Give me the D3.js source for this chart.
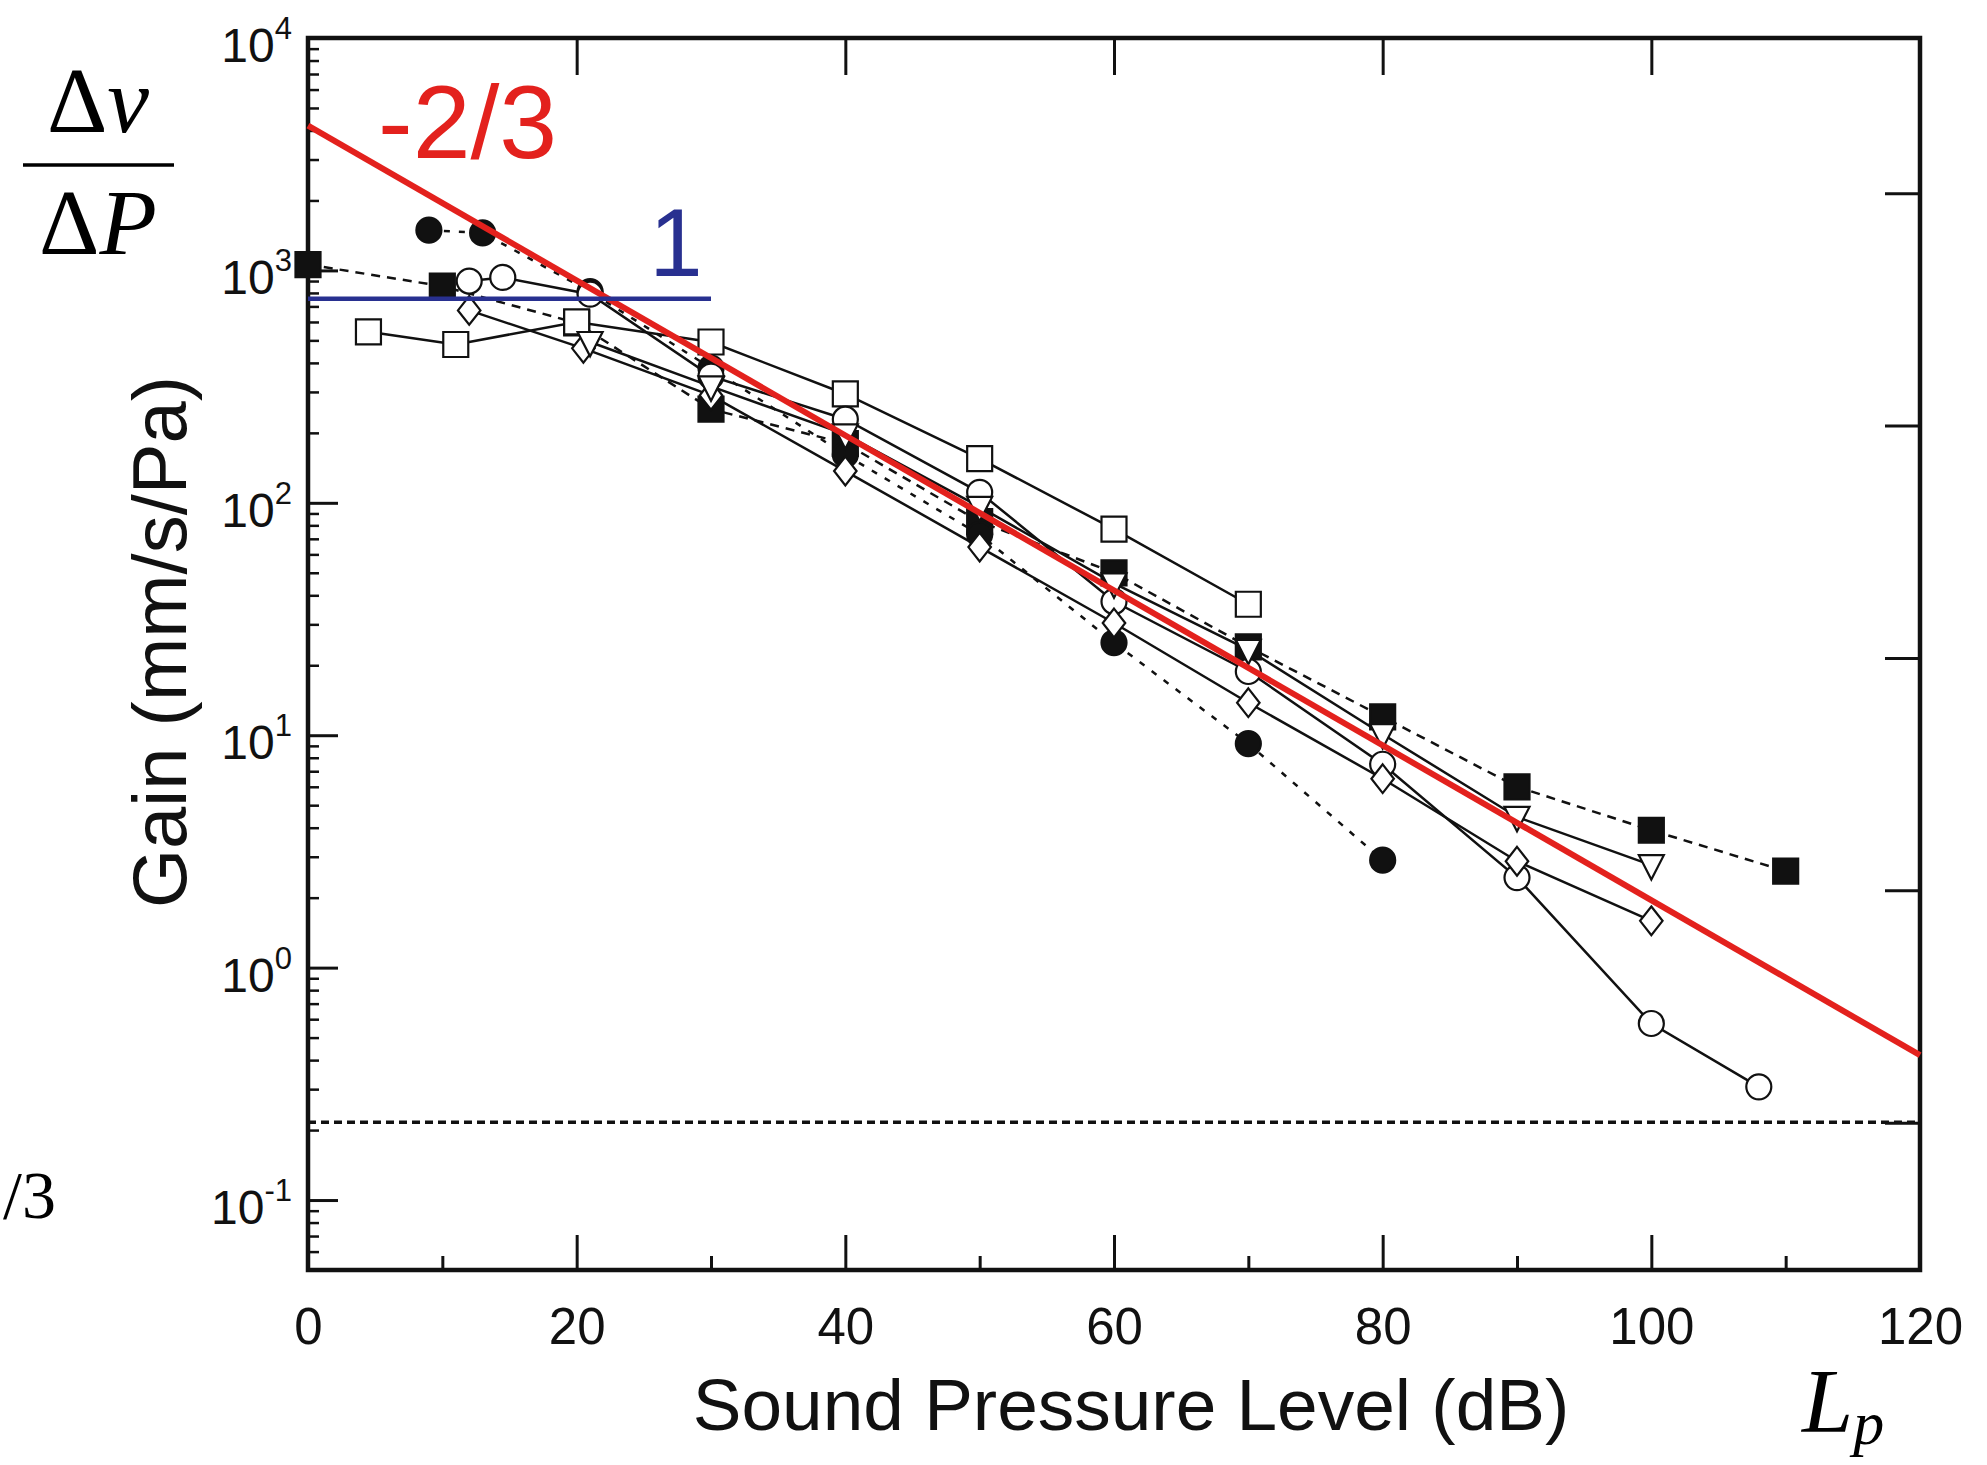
<!DOCTYPE html>
<html>
<head>
<meta charset="utf-8">
<script src="https://cdn.jsdelivr.net/npm/d3@7"></script>
<style>
  body { margin: 0; background: #fff; }
  svg { display: block; }
  text { font-family: "Liberation Sans", Arial, sans-serif; fill: #111; }
  .math { font-family: "Liberation Serif", "DejaVu Serif", serif; fill: #000; }
</style>
</head>
<body>
<svg id="chart" width="1987" height="1465"></svg>
<script>
// tick values
const xTicks = [0, 20, 40, 60, 80, 100, 120];
const xMinorTicks = [10, 30, 50, 70, 90, 110];
const yDecades = [0.1, 1, 10, 100, 1000, 10000];
const yExponents = ['-1', '0', '1', '2', '3', '4'];
const rightTicks = [0.215, 2.15, 21.5, 215, 2150];

// measured gain (mm/s/Pa) vs sound pressure level (dB)
const filledSquareDb = [0, 10, 20, 30, 40, 50, 60, 70, 80, 90, 100, 110];
const filledSquareGain = [1060, 855, 594, 253, 180, 83, 50, 24, 12, 6.0, 3.9, 2.6];

const filledCircleDb = [9, 13, 21, 30, 40, 50, 60, 70, 80];
const filledCircleGain = [1490, 1450, 810, 380, 161, 73, 25, 9.2, 2.9];

const openSquareDb = [4.5, 11, 20, 30, 40, 50, 60, 70];
const openSquareGain = [544, 480, 600, 492, 294, 155, 77, 36.6];

const openCircleDb = [12, 14.5, 21, 30, 40, 50, 60, 70, 80, 90, 100, 108];
const openCircleGain = [900, 933, 790, 351, 229, 111, 37.6, 18.8, 7.5, 2.44, 0.575, 0.307];

const openDiamondDb = [12, 20.5, 30, 40, 50, 60, 70, 80, 90, 100];
const openDiamondGain = [673, 462, 290, 137, 64.5, 30.4, 13.8, 6.5, 2.87, 1.59];

const openTriangleDb = [21, 30, 40, 50, 60, 70, 80, 90, 100];
const openTriangleGain = [492, 317, 197, 96, 45, 23.3, 10.1, 4.45, 2.76];

// reference lines
const slopeDb = [0, 120];
const slopeGain = [4200, 0.42];
const flatDb = [0, 30];
const flatGain = [755, 755];
const floorDb = [0, 120];
const floorGain = [0.216, 0.216];

const margin = { left: 308, right: 1920, top: 38, bottom: 1270 };
const svg = d3.select('#chart');

const x = d3.scaleLinear().domain([0, 120]).range([margin.left, margin.right]);
const y = d3.scaleLog().domain([0.05, 10000]).range([margin.bottom, margin.top]);

// axes, ticks pointing inward
const axisStyle = (g) => {
  g.select('.domain').remove();
  g.selectAll('.tick line').attr('stroke', '#111').attr('stroke-width', 3);
};

svg.append('g')
  .attr('transform', 'translate(0,' + margin.bottom + ')')
  .call(d3.axisBottom(x).tickValues(xTicks).tickSize(-35).tickPadding(38))
  .call(axisStyle)
  .call((g) => g.selectAll('text').attr('font-size', 51).attr('fill', '#111'));

svg.append('g')
  .attr('transform', 'translate(0,' + margin.bottom + ')')
  .call(d3.axisBottom(x).tickValues(xMinorTicks).tickSize(-14).tickFormat(''))
  .call(axisStyle);

svg.append('g')
  .attr('transform', 'translate(0,' + margin.top + ')')
  .call(d3.axisTop(x).tickValues(xTicks.slice(1, -1)).tickSize(-37).tickFormat(''))
  .call(axisStyle);

svg.append('g')
  .attr('transform', 'translate(' + margin.left + ',0)')
  .call(d3.axisLeft(y).tickValues(yDecades).tickSize(-30).tickFormat(''))
  .call(axisStyle);

svg.append('g')
  .attr('transform', 'translate(' + margin.left + ',0)')
  .call(d3.axisLeft(y).tickValues(y.ticks().filter((t) => !yDecades.includes(t))).tickSize(-11).tickFormat(''))
  .call(axisStyle)
  .call((g) => g.selectAll('.tick line').attr('stroke-width', 2.5));

svg.append('g')
  .attr('transform', 'translate(' + margin.right + ',0)')
  .call(d3.axisRight(y).tickValues(rightTicks).tickSize(-35).tickFormat(''))
  .call(axisStyle);

// y tick labels as 10 with superscript
const yLabels = svg.append('g').selectAll('text')
  .data(yDecades)
  .enter().append('text')
  .attr('x', 292)
  .attr('y', (d) => y(d) + 24)
  .attr('text-anchor', 'end')
  .attr('font-size', 48);
yLabels.append('tspan').text('10');
yLabels.append('tspan')
  .attr('font-size', 31)
  .attr('dy', -23)
  .text((d, i) => yExponents[i]);

// frame
svg.append('rect')
  .attr('x', margin.left)
  .attr('y', margin.top)
  .attr('width', margin.right - margin.left)
  .attr('height', margin.bottom - margin.top)
  .attr('fill', 'none')
  .attr('stroke', '#111')
  .attr('stroke-width', 4.5);

const line = d3.line().x((d) => x(d[0])).y((d) => y(d[1]));

// noise floor
svg.append('path')
  .datum(d3.zip(floorDb, floorGain))
  .attr('d', line)
  .attr('fill', 'none')
  .attr('stroke', '#111')
  .attr('stroke-width', 3.5)
  .attr('stroke-dasharray', '8,5');

const series = [
  { db: filledSquareDb, gain: filledSquareGain, shape: 'square', filled: true, dash: '9,7' },
  { db: filledCircleDb, gain: filledCircleGain, shape: 'circle', filled: true, dash: '6,9' },
  { db: openSquareDb, gain: openSquareGain, shape: 'square', filled: false, dash: null },
  { db: openCircleDb, gain: openCircleGain, shape: 'circle', filled: false, dash: null },
  { db: openDiamondDb, gain: openDiamondGain, shape: 'diamond', filled: false, dash: null },
  { db: openTriangleDb, gain: openTriangleGain, shape: 'triangle', filled: false, dash: null },
];

const markerPath = (shape, s) => {
  if (shape === 'square') return `M${-s},${-s}H${s}V${s}H${-s}Z`;
  if (shape === 'circle') return d3.symbol(d3.symbolCircle, Math.PI * s * s)();
  if (shape === 'diamond') return `M0,${-s * 1.15}L${s * 0.9},0L0,${s * 1.15}L${-s * 0.9},0Z`;
  return `M${-s},${-s * 0.8}H${s}L0,${s * 1.15}Z`;
};

series.forEach((s) => {
  svg.append('path')
    .datum(d3.zip(s.db, s.gain))
    .attr('d', line)
    .attr('fill', 'none')
    .attr('stroke', '#111')
    .attr('stroke-width', 2.5)
    .attr('stroke-dasharray', s.dash);
});

series.forEach((s) => {
  svg.append('g').selectAll('path')
    .data(d3.zip(s.db, s.gain))
    .enter().append('path')
    .attr('transform', (d) => 'translate(' + x(d[0]) + ',' + y(d[1]) + ')')
    .attr('d', markerPath(s.shape, 12.5))
    .attr('fill', s.filled ? '#111' : '#fff')
    .attr('stroke', '#111')
    .attr('stroke-width', 2.2);
});

// power-law guides
svg.append('path')
  .datum(d3.zip(slopeDb, slopeGain))
  .attr('d', line)
  .attr('fill', 'none')
  .attr('stroke', '#e3211d')
  .attr('stroke-width', 6);

svg.append('path')
  .datum(d3.zip(flatDb, flatGain))
  .attr('d', line)
  .attr('fill', 'none')
  .attr('stroke', '#283090')
  .attr('stroke-width', 4.5);

svg.append('text')
  .attr('x', 378).attr('y', 158)
  .attr('font-size', 104)
  .style('fill', '#e3211d')
  .text('-2/3');

svg.append('text')
  .attr('x', 676).attr('y', 276)
  .attr('text-anchor', 'middle')
  .attr('font-size', 96)
  .style('fill', '#283090')
  .text('1');

// axis titles
svg.append('text')
  .attr('x', 1131).attr('y', 1430)
  .attr('text-anchor', 'middle')
  .attr('font-size', 73)
  .text('Sound Pressure Level (dB)');

svg.append('text')
  .attr('transform', 'translate(186,642) rotate(-90)')
  .attr('text-anchor', 'middle')
  .attr('font-size', 76)
  .text('Gain (mm/s/Pa)');

// math annotations
const num = svg.append('text').attr('class', 'math')
  .attr('x', 98).attr('y', 132)
  .attr('text-anchor', 'middle')
  .attr('font-size', 94);
num.append('tspan').text('Δ');
num.append('tspan').attr('font-style', 'italic').text('v');

svg.append('line')
  .attr('x1', 23).attr('x2', 174)
  .attr('y1', 165).attr('y2', 165)
  .attr('stroke', '#000')
  .attr('stroke-width', 3.5);

const den = svg.append('text').attr('class', 'math')
  .attr('x', 98).attr('y', 254)
  .attr('text-anchor', 'middle')
  .attr('font-size', 94);
den.append('tspan').text('Δ');
den.append('tspan').attr('font-style', 'italic').text('P');

svg.append('text').attr('class', 'math')
  .attr('x', 3).attr('y', 1218)
  .attr('font-size', 68)
  .text('/3');

const lp = svg.append('text').attr('class', 'math')
  .attr('x', 1802).attr('y', 1432)
  .attr('font-size', 92)
  .attr('font-style', 'italic');
lp.append('tspan').text('L');
lp.append('tspan').attr('font-size', 62).attr('dy', 12).text('p');
</script>
</body>
</html>
